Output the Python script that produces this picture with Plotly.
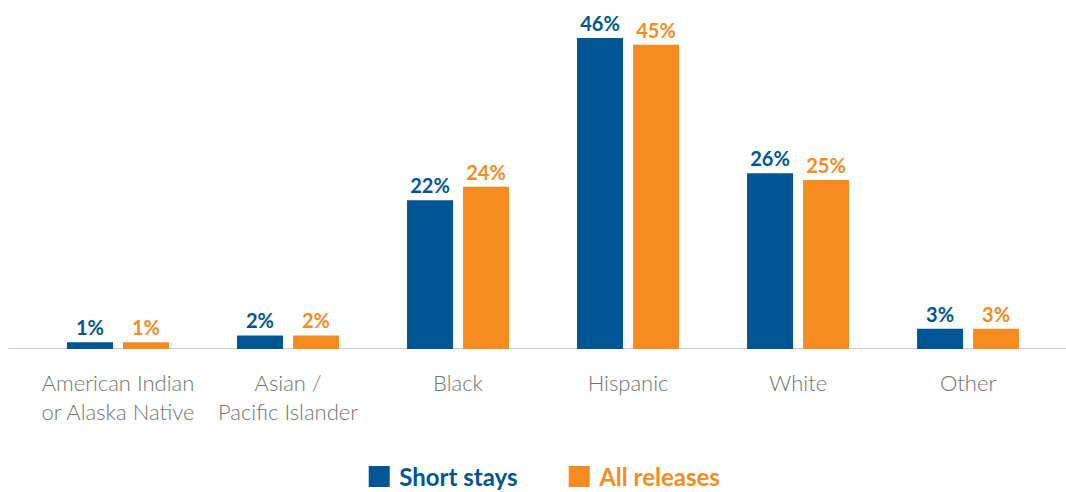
import plotly.graph_objects as go

categories = ["American Indian<br>or Alaska Native", "Asian /<br>Pacific Islander", "Black", "Hispanic", "White", "Other"]
short_stays = [1, 2, 22, 46, 26, 3]
all_releases = [1, 2, 24, 45, 25, 3]
series_names = ["Short stays", "All releases"]

BLUE = "#005695"
ORANGE = "#f68b1f"
FONT = "Lato"

fig = go.Figure()
for name, vals, col in [(series_names[0], short_stays, BLUE), (series_names[1], all_releases, ORANGE)]:
    fig.add_trace(go.Bar(
        x=categories, y=vals, name=name, marker=dict(color=col, line=dict(width=0)),
        text=[f"<b>{v}%</b>" for v in vals], textposition="outside",
        textfont=dict(family=FONT, size=20, color=col), cliponaxis=False,
        constraintext="none", showlegend=False,
    ))
    fig.add_trace(go.Scatter(
        x=[None], y=[None], mode="markers",
        name=f"<b><span style='color:{col}'>{name}</span></b>",
        marker=dict(symbol="square", size=16, color=col, line=dict(color=col, width=6)),
        showlegend=True,
    ))

fig.update_layout(
    width=1066, height=492,
    margin=dict(l=8, r=0, t=0, b=143, autoexpand=False),
    paper_bgcolor="white", plot_bgcolor="white",
    barmode="group", bargap=0.341, bargroupgap=0.179,
    font=dict(family=FONT),
    xaxis=dict(
        range=[-0.647, 5.576], showgrid=False, zeroline=False,
        showline=False, ticks="", tickfont=dict(size=22, color="#737373", weight=300),
        ticklabelstandoff=19,
    ),
    yaxis=dict(range=[0, 51.6], visible=False, showgrid=False),
    legend=dict(
        orientation="h", x=0.521, xanchor="center",
        yref="container", y=1 - 477 / 492, yanchor="middle",
        font=dict(size=24, color=BLUE), entrywidth=155, entrywidthmode="pixels",
        itemsizing="trace",
    ),
    shapes=[dict(type="line", xref="paper", yref="y", x0=0, x1=1, y0=0, y1=0,
                 line=dict(color="#c3cddb", width=2), layer="below")],
)

fig.write_html("out.html", config={"displayModeBar": False},
               post_script="document.body.style.margin='0';")
